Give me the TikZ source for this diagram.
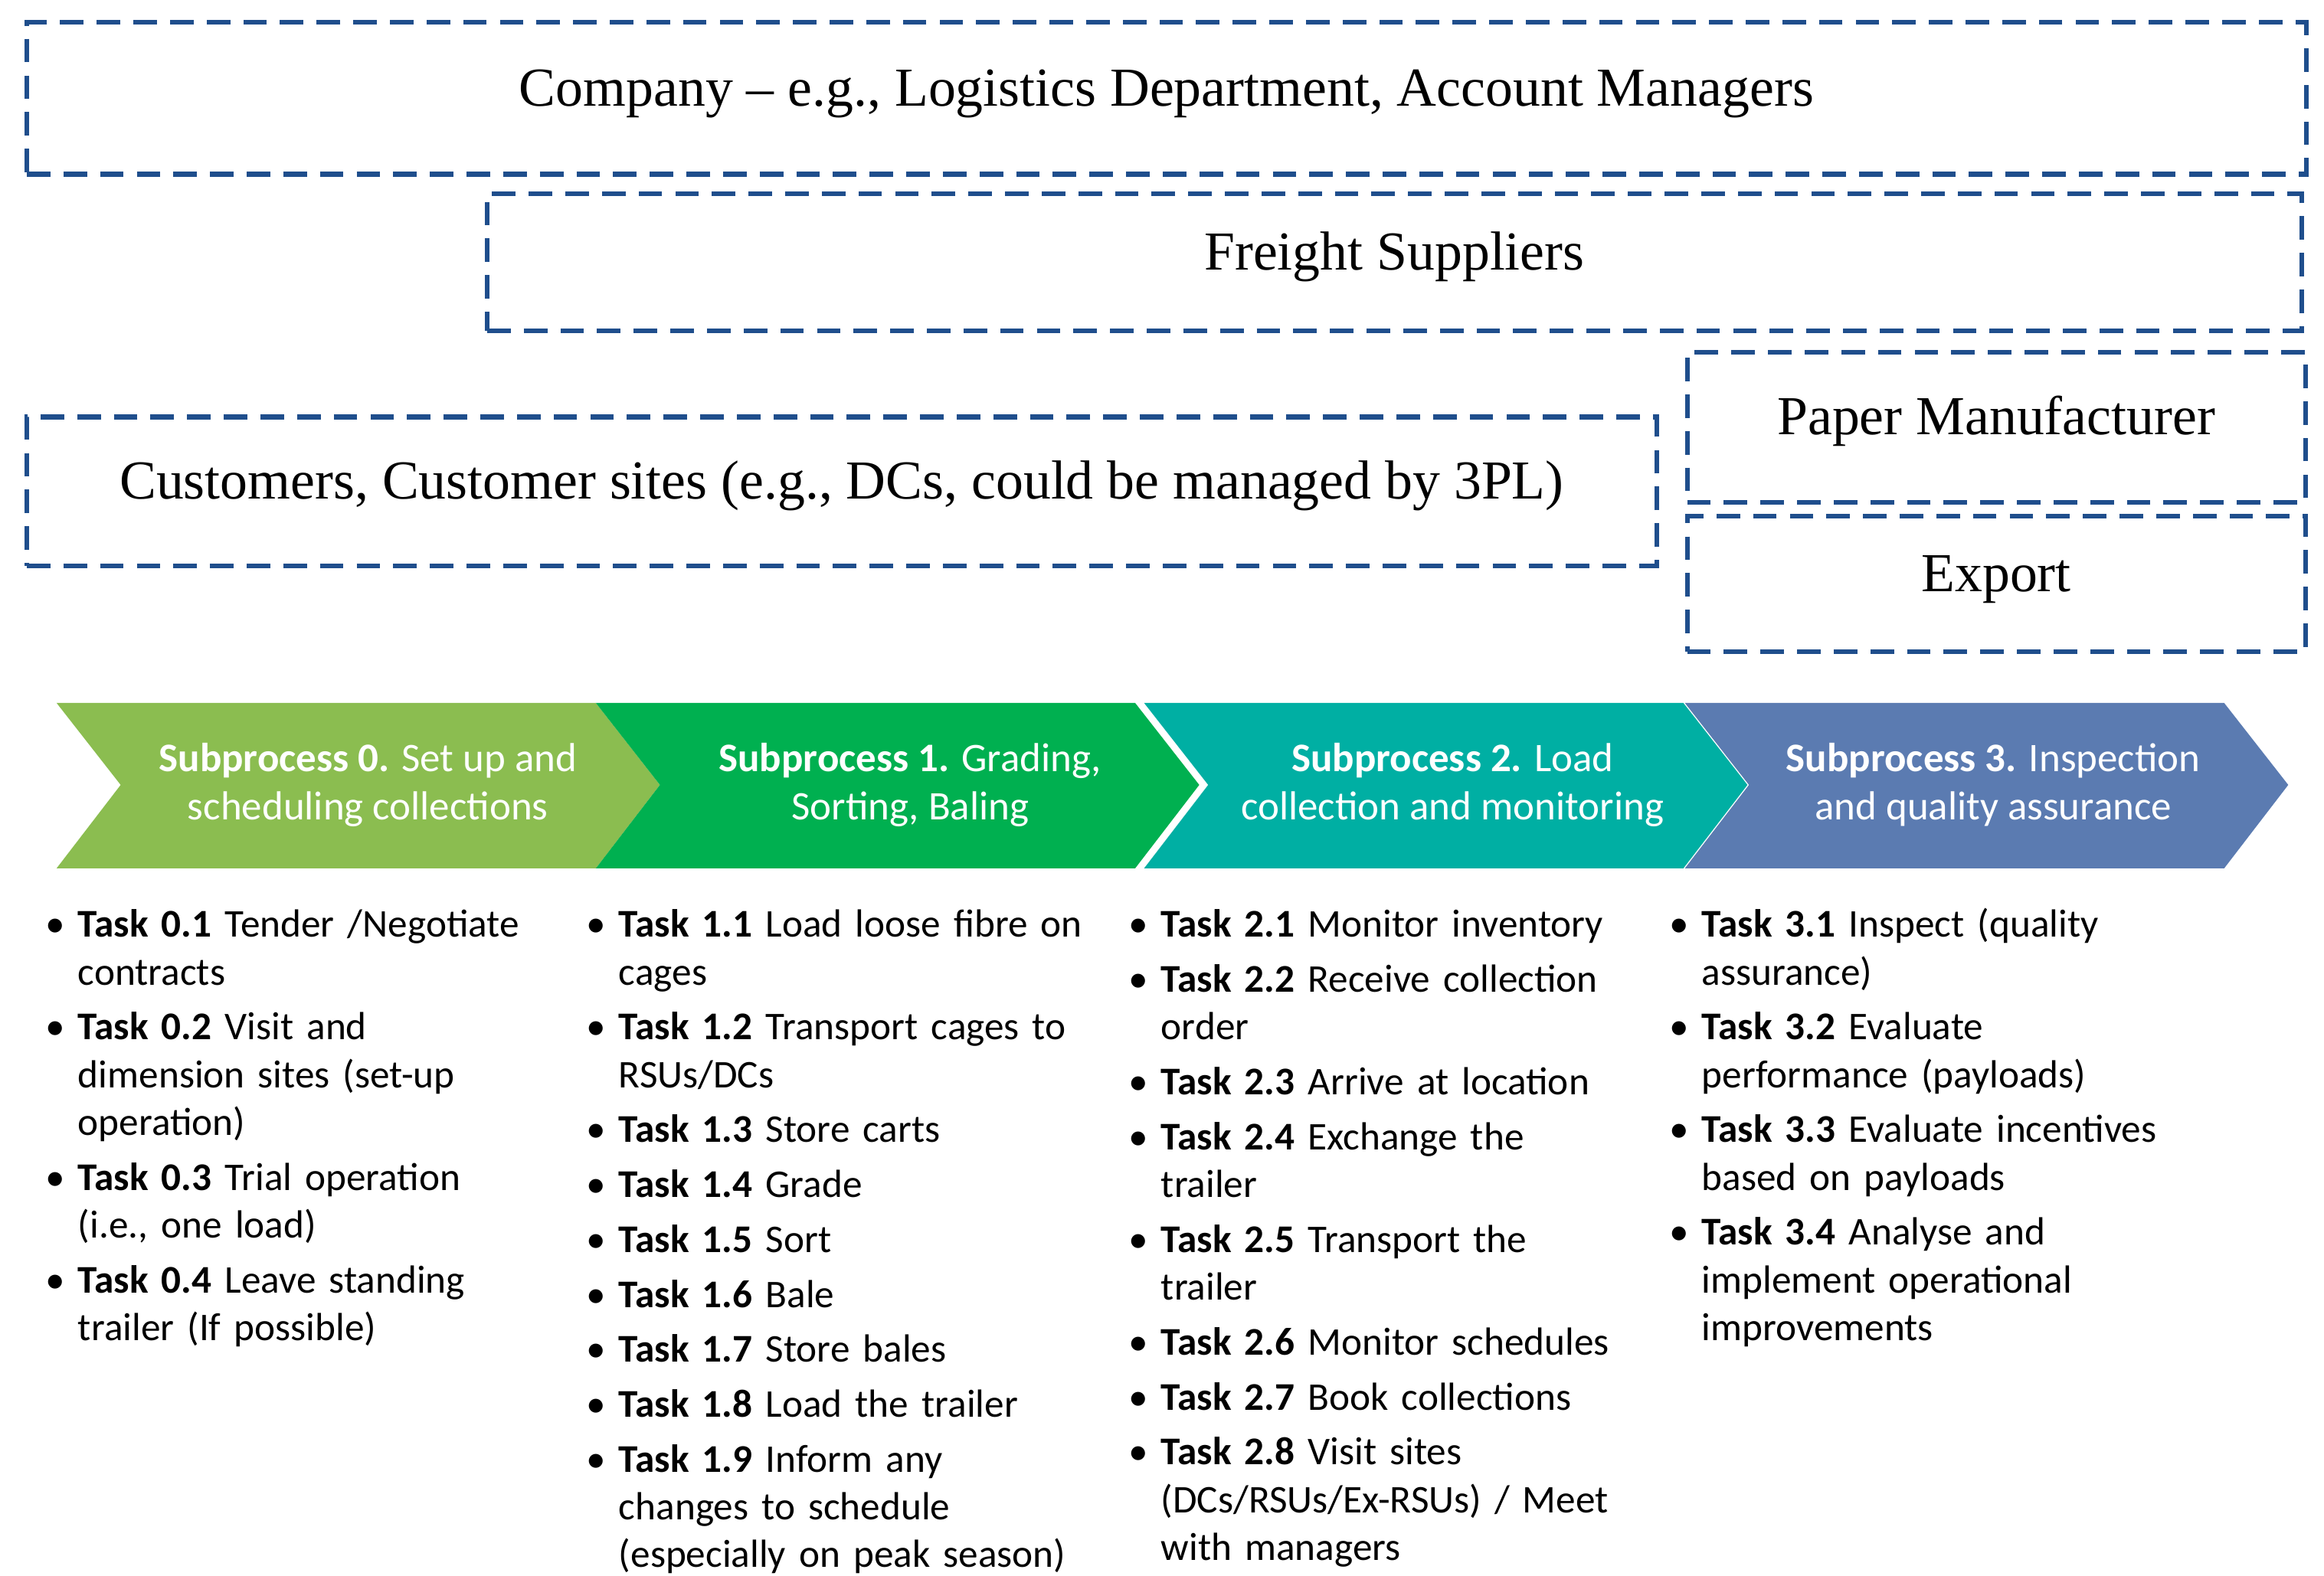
\documentclass[tikz,border=0pt]{standalone}
\usepackage{fontspec}
\setmainfont{Liberation Serif}
\newfontfamily\calibri{Carlito}
\usepackage{enumitem}
\usetikzlibrary{positioning}
\definecolor{dash1}{HTML}{1F4E8C}
\definecolor{green1}{HTML}{8BBD50}
\definecolor{green2}{HTML}{00B050}
\definecolor{teal3}{HTML}{00AFA3}
\definecolor{blue4}{HTML}{5B7BB1}
\tikzset{
  party/.style={draw=dash1, line width=1.8pt, dash pattern=on 9pt off 5pt,
    font=\fontsize{21}{24}\selectfont, inner sep=0pt},
  chev/.style={font=\calibri\fontsize{15.5}{18.5}\selectfont, text=white, align=center},
  tasks/.style={anchor=north west, inner sep=0pt, text width=#1,
    font=\calibri\fontsize{15}{18.2}\selectfont, align=left}
}
\newcommand{\tk}[1]{\item \textbf{Task #1}}
\newcommand{\lbl}[1]{\raisebox{-0.1cm}[0pt][0pt]{#1}}
\setlist[itemize]{nosep, leftmargin=12pt, labelsep=5pt, itemsep=2.8pt, label=\textbullet}
\begin{document}
\begin{tikzpicture}[x=0.02cm, y=-0.02cm]
\useasboundingbox (0,0) rectangle (1560,1058);

% stakeholders
\node[party, minimum width=1530*0.02cm, minimum height=102*0.02cm] (company) at (783,66) {\lbl{Company -- e.g., Logistics Department, Account Managers}};
\node[party, minimum width=1218*0.02cm, minimum height=92*0.02cm] (freight) at (936,176) {\lbl{Freight Suppliers}};
\node[party, minimum width=1094*0.02cm, minimum height=100*0.02cm] (customers) at (565,330) {\lbl{Customers, Customer sites (e.g., DCs, could be managed by 3PL)}};
\node[party, minimum width=415*0.02cm, minimum height=101*0.02cm] (paper) at (1340,287) {\lbl{Paper Manufacturer}};
\node[party, minimum width=415*0.02cm, minimum height=91*0.02cm] (export) at (1340,392) {\lbl{Export}};

% subprocess chevrons
\foreach \L/\col in {38/green1, 400/green2, 768/teal3, 1131/blue4}
  \fill[\col] (\L,472) -- ++(362,0) -- ++(43,55) -- ++(-43,56) -- ++(-362,0) -- ++(43,-56) -- cycle;
\node[chev] (sp0) at (247,527) {\textbf{Subprocess 0.} Set up and\\ scheduling collections};
\node[chev] (sp1) at (611,527) {\textbf{Subprocess 1.} Grading,\\ Sorting, Baling};
\node[chev] (sp2) at (975,527) {\textbf{Subprocess 2.} Load\\ collection and monitoring};
\node[chev] (sp3) at (1338,527) {\textbf{Subprocess 3.} Inspection\\ and quality assurance};

% tasks
\node[tasks=345*0.02cm] (t0) at (31,597) {\begin{itemize}
\tk{0.1} Tender /Negotiate\\ contracts
\tk{0.2} Visit and\\ dimension sites (set-up\\ operation)
\tk{0.3} Trial operation\\ (i.e., one load)
\tk{0.4} Leave standing\\ trailer (If possible)
\end{itemize}};
\node[tasks=360*0.02cm] (t1) at (394,597) {\begin{itemize}
\tk{1.1} Load loose fibre on\\ cages
\tk{1.2} Transport cages to\\ RSUs/DCs
\tk{1.3} Store carts
\tk{1.4} Grade
\tk{1.5} Sort
\tk{1.6} Bale
\tk{1.7} Store bales
\tk{1.8} Load the trailer
\tk{1.9} Inform any\\ changes to schedule\\ (especially on peak season)
\end{itemize}};
\node[tasks=350*0.02cm] (t2) at (758,597) {\begin{itemize}
\tk{2.1} Monitor inventory
\tk{2.2} Receive collection\\ order
\tk{2.3} Arrive at location
\tk{2.4} Exchange the\\ trailer
\tk{2.5} Transport the\\ trailer
\tk{2.6} Monitor schedules
\tk{2.7} Book collections
\tk{2.8} Visit sites\\ (DCs/RSUs/Ex-RSUs) / Meet\\ with managers
\end{itemize}};
\node[tasks=400*0.02cm] (t3) at (1121,597) {\begin{itemize}
\tk{3.1} Inspect (quality\\ assurance)
\tk{3.2} Evaluate\\ performance (payloads)
\tk{3.3} Evaluate incentives\\ based on payloads
\tk{3.4} Analyse and\\ implement operational\\ improvements
\end{itemize}};
\end{tikzpicture}
\end{document}
